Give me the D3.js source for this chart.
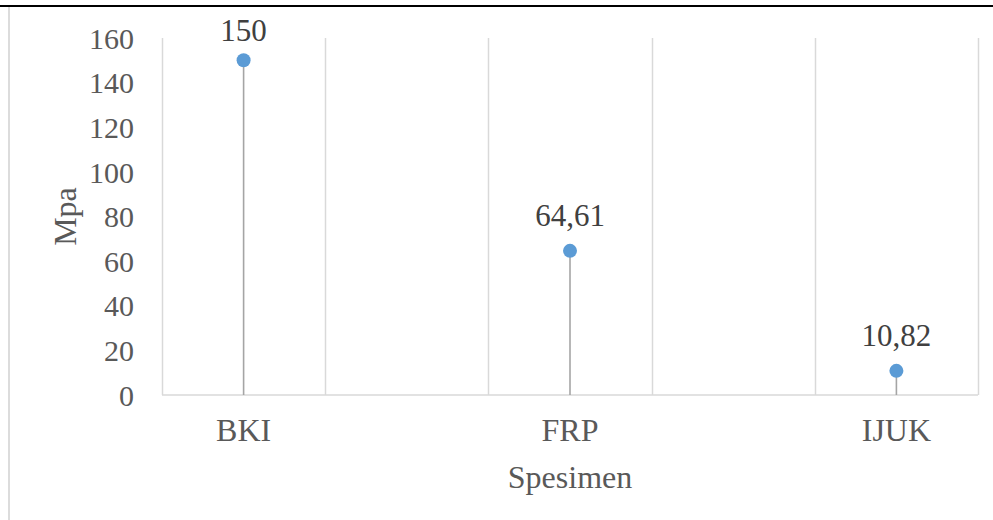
<!DOCTYPE html>
<html><head><meta charset="utf-8">
<script src="https://cdn.jsdelivr.net/npm/d3@7"></script>
<style>html,body{margin:0;padding:0;background:#fff;}svg{display:block;}</style>
</head><body>
<script>
const categories = ["BKI", "FRP", "IJUK"];
const values = [150, 64.61, 10.82];
const valueLabels = ["150", "64,61", "10,82"];
const yTicks = [0, 20, 40, 60, 80, 100, 120, 140, 160];
const yTitle = "Mpa";
const xTitle = "Spesimen";

const W = 993, H = 520;
const svg = d3.select("body").append("svg").attr("width", W).attr("height", H);
const font = "'Liberation Serif','Times New Roman',serif";

// frame lines
svg.append("line").attr("x1", 0).attr("x2", W).attr("y1", 6).attr("y2", 6)
  .attr("stroke", "#000").attr("stroke-width", 2.2);
svg.append("line").attr("x1", 9).attr("x2", 9).attr("y1", 7).attr("y2", H)
  .attr("stroke", "#d0d0d0").attr("stroke-width", 1.5);

const x = d3.scaleLinear().domain([-0.25, categories.length - 0.75]).range([162, 978]);
const y = d3.scaleLinear().domain([0, 160]).range([395, 38]);

// vertical gridlines
const gridPos = d3.range(-0.25, categories.length - 0.75 + 0.01, 0.5);
svg.append("g").selectAll("line").data(gridPos).join("line")
  .attr("x1", d => Math.round(x(d)) + 0.5).attr("x2", d => Math.round(x(d)) + 0.5)
  .attr("y1", y(160)).attr("y2", y(0))
  .attr("stroke", "#d9d9d9").attr("stroke-width", 1.5);
// baseline
svg.append("line").attr("x1", x(-0.25)).attr("x2", x(categories.length - 0.75))
  .attr("y1", y(0)).attr("y2", y(0)).attr("stroke", "#d9d9d9").attr("stroke-width", 1.5);

// y axis tick labels
const yAxis = d3.axisLeft(y).tickValues(yTicks).tickSize(0).tickPadding(0);
const gy = svg.append("g").attr("transform", "translate(134,0)").call(yAxis);
gy.select(".domain").remove();
gy.selectAll("text").attr("font-family", font).attr("font-size", 30)
  .attr("fill", "#595959").attr("dy", "0.34em");

// x axis labels
svg.append("g").selectAll("text").data(categories).join("text")
  .attr("x", (d, i) => x(i)).attr("y", 441)
  .attr("text-anchor", "middle").attr("font-family", font).attr("font-size", 32)
  .attr("fill", "#595959").text(d => d);

// stems
svg.append("g").selectAll("line").data(values).join("line")
  .attr("x1", (d, i) => x(i)).attr("x2", (d, i) => x(i))
  .attr("y1", d => y(d)).attr("y2", y(0))
  .attr("stroke", "#a5a5a5").attr("stroke-width", 1.6);
// dots
svg.append("g").selectAll("circle").data(values).join("circle")
  .attr("cx", (d, i) => x(i)).attr("cy", d => y(d)).attr("r", 7)
  .attr("fill", "#5b9bd5");
// data labels (kept inside the top of the chart area)
svg.append("g").selectAll("text").data(values).join("text")
  .attr("x", (d, i) => x(i)).attr("y", d => Math.max(y(d) - 25, y(160) + 3))
  .attr("text-anchor", "middle").attr("font-family", font).attr("font-size", 31)
  .attr("fill", "#404040").text((d, i) => valueLabels[i]);

// axis titles
svg.append("text").attr("transform", `translate(76,${(y(0)+y(160))/2}) rotate(-90)`)
  .attr("text-anchor", "middle").attr("font-family", font).attr("font-size", 32)
  .attr("fill", "#595959").text(yTitle);
svg.append("text").attr("x", (x(-0.25) + x(categories.length - 0.75)) / 2).attr("y", 488)
  .attr("text-anchor", "middle").attr("font-family", font).attr("font-size", 32)
  .attr("fill", "#595959").text(xTitle);
</script>
</body></html>
